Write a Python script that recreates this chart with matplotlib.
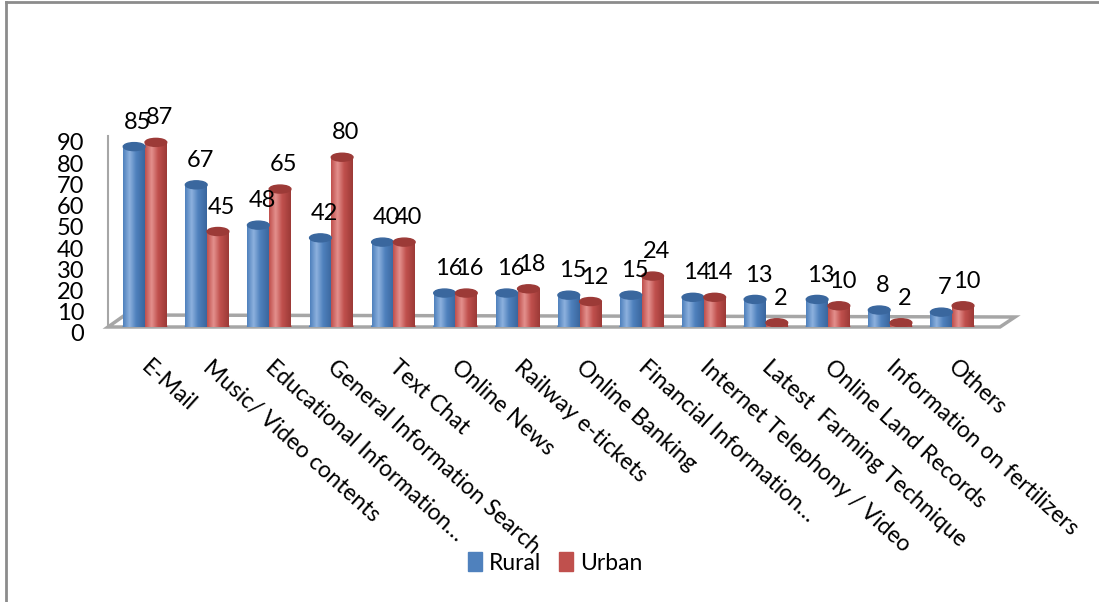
import numpy as np
import matplotlib.pyplot as plt
import matplotlib.transforms as mtransforms
from matplotlib.patches import Ellipse, Polygon, Patch
from matplotlib.lines import Line2D
from matplotlib.colors import LinearSegmentedColormap

plt.rcParams["font.family"] = ["Lato", "DejaVu Sans"]

categories = [
    "E-Mail", "Music/ Video contents", "Educational Information…",
    "General Information Search", "Text Chat", "Online News",
    "Railway e-tickets", "Online Banking", "Financial Information…",
    "Internet Telephony / Video", "Latest  Farming Technique",
    "Online Land Records", "Information on fertilizers", "Others",
]
rural = [85, 67, 48, 42, 40, 16, 16, 15, 15, 14, 13, 13, 8, 7]
urban = [87, 45, 65, 80, 40, 16, 18, 12, 24, 14, 2, 10, 2, 10]
yticks = list(range(0, 100, 10))

blue = "#4F81BD"
red = "#C0504D"
W, H = 1099, 602

fig = plt.figure(figsize=(W / 100, H / 100), dpi=100)
ax = fig.add_axes([108 / W, 1 - 327 / H, 892 / W, 191 / H])
ax.set_xlim(-0.596, 13.77)
ax.set_ylim(0, 90)

x = np.arange(len(categories))
bw = 0.35
cap_h = 8 / (191 / 90)  # cap ellipse height in data units (~8 px)
ramp = np.linspace(0, 1, 60)[None, :]


def shaded_bars(xs, vals, color, light, dark):
    # cylinder-like horizontal shading clipped to each bar
    cmap = LinearSegmentedColormap.from_list("cyl", [(0, color), (0.3, light), (0.6, color), (1, dark)])
    bars = ax.bar(xs, vals, bw, color=color, zorder=3)
    for b, v in zip(bars, vals):
        x0 = b.get_x()
        im = ax.imshow(ramp, cmap=cmap, extent=(x0, x0 + bw, 0, v), aspect="auto", zorder=3)
        im.set_clip_path(b)
        ax.add_patch(Ellipse((x0 + bw / 2, v), bw, cap_h, color=dark, zorder=4))
        ax.add_patch(Ellipse((x0 + bw / 2, 0), bw, cap_h, color=color, zorder=2.9))
    return bars


shaded_bars(x - bw / 2, rural, blue, "#8DB1DE", "#3A679E")
shaded_bars(x + bw / 2, urban, red, "#E3908D", "#9C3A37")

for xs, vals in ((x - bw / 2, rural), (x + bw / 2, urban)):
    for xi, v in zip(xs, vals):
        ax.annotate(str(v), (xi + 0.06, v), xytext=(0, 10), textcoords="offset points",
                    ha="center", va="bottom", fontsize=17, zorder=5)

# floor of the 3-D plot area
floor = Polygon([(0, 0), (1, 0), (1 + 15 / 892, 10 / 191), (17 / 892, 12 / 191)],
                closed=True, transform=ax.transAxes, facecolor="white",
                edgecolor="#a6a6a6", lw=2.5, zorder=1, clip_on=False)
ax.add_patch(floor)

for s in ("top", "right", "bottom"):
    ax.spines[s].set_visible(False)
ax.spines["left"].set_color("#a6a6a6")
ax.spines["left"].set_linewidth(1.5)

ax.set_yticks(yticks)
ax.set_yticklabels([str(t) for t in yticks], fontsize=17)
ax.tick_params(axis="y", length=0, pad=17)
shift = mtransforms.ScaledTranslation(0, -6 / 100, fig.dpi_scale_trans)
for lbl in ax.get_yticklabels():
    lbl.set_transform(lbl.get_transform() + shift)

ax.set_xticks(x + 0.1)
ax.set_xticklabels(categories, rotation=-42, ha="left", va="top",
                   rotation_mode="anchor", fontsize=16.5)
ax.tick_params(axis="x", length=0, pad=21)

fig.legend(handles=[Patch(color=blue, label="Rural"), Patch(color=red, label="Urban")],
           loc="center", bbox_to_anchor=(0.505, 1 - 563 / H), ncol=2, frameon=False,
           fontsize=16.5, handlelength=0.6, handleheight=0.9, handletextpad=0.3,
           columnspacing=0.8)

fig.add_artist(Line2D([6 / W, 6 / W], [0, 1 - 2 / H], color="#8c8c8c", lw=2))
fig.add_artist(Line2D([6 / W, 1], [1 - 2 / H, 1 - 2 / H], color="#8c8c8c", lw=2))

fig.savefig("out.png", dpi=100)
